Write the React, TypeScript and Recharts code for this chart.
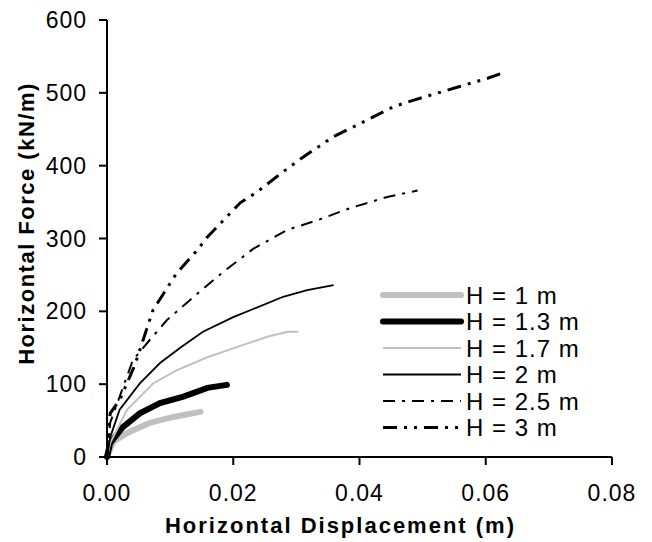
import { LineChart, Line, XAxis, YAxis } from "recharts";

type Pt = { x: number; y: number };

const H1: Pt[] = [
  { x: 0, y: 0 }, { x: 0.001, y: 21 }, { x: 0.0032, y: 33 }, { x: 0.0068, y: 47 },
  { x: 0.0105, y: 55 }, { x: 0.0148, y: 62 },
];
const H13: Pt[] = [
  { x: 0, y: 0 }, { x: 0.0005, y: 19 }, { x: 0.0025, y: 41 }, { x: 0.0052, y: 60 },
  { x: 0.0084, y: 74 }, { x: 0.0121, y: 83 }, { x: 0.0159, y: 95 }, { x: 0.019, y: 99 },
];
const H17: Pt[] = [
  { x: 0, y: 0 }, { x: 0.0005, y: 19 }, { x: 0.0032, y: 65 }, { x: 0.0073, y: 101 },
  { x: 0.011, y: 119 }, { x: 0.0159, y: 137 }, { x: 0.0216, y: 154 }, { x: 0.0254, y: 165 },
  { x: 0.0286, y: 172 }, { x: 0.0303, y: 172 },
];
const H2: Pt[] = [
  { x: 0, y: 0 }, { x: 0.0005, y: 27 }, { x: 0.002, y: 65 }, { x: 0.0052, y: 101 },
  { x: 0.0084, y: 129 }, { x: 0.0116, y: 150 }, { x: 0.0152, y: 172 }, { x: 0.02, y: 192 },
  { x: 0.0279, y: 220 }, { x: 0.0317, y: 229 }, { x: 0.0359, y: 236 },
];
const H25: Pt[] = [
  { x: 0, y: 0 }, { x: 0.0005, y: 47 }, { x: 0.0041, y: 133 }, { x: 0.0068, y: 161 },
  { x: 0.0095, y: 188 }, { x: 0.0132, y: 216 }, { x: 0.0184, y: 254 }, { x: 0.0232, y: 286 },
  { x: 0.0286, y: 312 }, { x: 0.0333, y: 325 }, { x: 0.0386, y: 342 }, { x: 0.0444, y: 357 },
  { x: 0.0492, y: 366 },
];
const H3: Pt[] = [
  { x: 0, y: 0 }, { x: 0.0005, y: 60 }, { x: 0.002, y: 78 }, { x: 0.0044, y: 126 },
  { x: 0.0073, y: 202 }, { x: 0.011, y: 252 }, { x: 0.0143, y: 284 }, { x: 0.0159, y: 302 },
  { x: 0.0211, y: 349 }, { x: 0.0238, y: 364 }, { x: 0.0278, y: 391 }, { x: 0.0311, y: 412 },
  { x: 0.0359, y: 440 }, { x: 0.0413, y: 463 }, { x: 0.0454, y: 481 }, { x: 0.0486, y: 490 },
  { x: 0.0556, y: 508 }, { x: 0.0603, y: 520 }, { x: 0.0632, y: 529 },
];

const xTicks = [0, 0.02, 0.04, 0.06, 0.08];
const yTicks = [0, 100, 200, 300, 400, 500, 600];

const SERIES = [
  { name: "H = 1 m", data: H1, color: "#c0c0c0", width: 6, dash: undefined },
  { name: "H = 1.3 m", data: H13, color: "#000000", width: 6, dash: undefined },
  { name: "H = 1.7 m", data: H17, color: "#c0c0c0", width: 2, dash: undefined },
  { name: "H = 2 m", data: H2, color: "#000000", width: 1.8, dash: undefined },
  { name: "H = 2.5 m", data: H25, color: "#000000", width: 2, dash: "12 7 3 7" },
  { name: "H = 3 m", data: H3, color: "#000000", width: 3, dash: "14 7 3 7 3 7" },
];

const FONT = "'Liberation Sans', Arial, sans-serif";

function LegendBox() {
  return (
    <svg width={260} height={190} style={{ overflow: "visible" }}>
      {SERIES.map((s, i) => {
        const y = 20 + i * 26.5;
        return (
          <g key={s.name}>
            <line
              x1={4}
              x2={82}
              y1={y}
              y2={y}
              stroke={s.color}
              strokeWidth={s.width}
              strokeDasharray={s.dash}
              strokeLinecap={s.width >= 5 ? "round" : "butt"}
            />
            <text x={87} y={y + 8.5} fontSize={24} letterSpacing={1} fontFamily={FONT} fill="#000">
              {s.name}
            </text>
          </g>
        );
      })}
    </svg>
  );
}

export default function App() {
  return (
    <div style={{ position: "absolute", left: 0, top: 0, width: 652, height: 542, background: "#fff" }}>
      <LineChart
        width={652}
        height={542}
        margin={{ top: 20, right: 40, bottom: 0, left: 0 }}
        style={{ fontFamily: FONT }}
      >
        <XAxis
          type="number"
          dataKey="x"
          domain={[0, 0.08]}
          ticks={xTicks}
          tickFormatter={(v: number) => v.toFixed(2)}
          height={85}
          stroke="#000"
          strokeWidth={2}
          tickSize={8}
          tick={{ fill: "#000", fontSize: 23, letterSpacing: 1, dy: 18 }}
          label={{
            content: (p: any) => {
              const vb = p.viewBox;
              return (
                <text x={vb.x + vb.width / 2 - 19} y={525} textAnchor="middle" dominantBaseline="central" fontSize={22} fontWeight="bold" letterSpacing={2} fill="#000" fontFamily={FONT}>
                  Horizontal Displacement (m)
                </text>
              );
            },
          }}
        />
        <XAxis xAxisId="top" type="number" orientation="top" domain={[0, 0.08]} tick={false} tickLine={false} height={0} stroke="#000" strokeWidth={2} />
        <YAxis
          type="number"
          domain={[0, 600]}
          ticks={yTicks}
          width={107}
          stroke="#000"
          strokeWidth={2}
          tickSize={8}
          tick={{ fill: "#000", fontSize: 23, letterSpacing: 1, dx: -10 }}
          label={{
            content: (p: any) => {
              const vb = p.viewBox;
              const cx = vb.x + 26;
              const cy = vb.y + vb.height / 2 - 15;
              return (
                <text transform={`translate(${cx},${cy}) rotate(-90)`} textAnchor="middle" dominantBaseline="central" fontSize={22} fontWeight="bold" letterSpacing={1.5} fill="#000" fontFamily={FONT}>
                  Horizontal Force (kN/m)
                </text>
              );
            },
          }}
        />
        <YAxis yAxisId="right" orientation="right" domain={[0, 600]} tick={false} tickLine={false} width={0} stroke="#000" strokeWidth={2} />
        {SERIES.map((s) => (
          <Line
            key={s.name}
            data={s.data}
            dataKey="y"
            name={s.name}
            type="linear"
            stroke={s.color}
            strokeWidth={s.width}
            strokeDasharray={s.dash}
            strokeLinecap={s.width >= 5 ? "round" : "butt"}
            dot={false}
            activeDot={false}
            isAnimationActive={false}
          />
        ))}
      </LineChart>
      <div style={{ position: "absolute", left: 379, top: 275 }}>
        <LegendBox />
      </div>
    </div>
  );
}
